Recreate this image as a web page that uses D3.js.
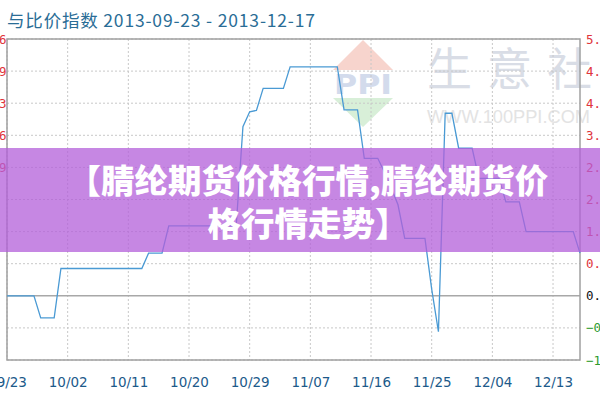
<!DOCTYPE html>
<html><head><meta charset="utf-8">
<script src="https://cdn.jsdelivr.net/npm/d3@7"></script>
<style>body{margin:0;background:#fff;} svg{display:block;}</style>
</head><body>
<svg id="c" width="600" height="400"></svg>
<script>
const titleText = "与比价指数 2013-09-23 - 2013-12-17";
const bannerLines = ["【腈纶期货价格行情,腈纶期货价", "格行情走势】"];
const watermarkName = "生意社";
const watermarkUrl = "WWW.100PPI.COM";
const watermarkLogo = "PPI";

const dates = ["2013-09-23","2013-09-27","2013-09-28","2013-09-30","2013-10-01","2013-10-13","2013-10-14","2013-10-16","2013-10-17","2013-10-27","2013-10-28","2013-10-29","2013-10-30","2013-10-31","2013-11-03","2013-11-04","2013-11-11","2013-11-12","2013-11-14","2013-11-15","2013-11-17","2013-11-18","2013-11-19","2013-11-20","2013-11-21","2013-11-24","2013-11-25","2013-11-26","2013-11-27","2013-11-28","2013-11-29","2013-12-01","2013-12-02","2013-12-05","2013-12-06","2013-12-08","2013-12-09","2013-12-16","2013-12-17"];
const values = [0,0,-0.46,-0.46,0.57,0.57,0.89,0.89,1.46,1.46,3.53,3.84,3.87,4.33,4.33,4.78,4.78,3.88,3.88,2.87,2.87,2.58,2.25,1.90,1.20,1.20,0.14,-0.75,3.81,3.81,3.08,3.08,2.45,2.45,1.96,1.96,1.34,1.34,0.89];

const xTickDates = ["2013-09-23","2013-10-02","2013-10-11","2013-10-20","2013-10-29","2013-11-07","2013-11-16","2013-11-25","2013-12-04","2013-12-13"];
const yTicks = [-1.34,-0.67,0,0.67,1.34,2.01,2.68,3.35,4.02,4.69,5.36];
const leftTickLabels = ["","","","","","","2.69","3.36","4.03","4.69","5.36"];

const parse = d3.timeParse("%Y-%m-%d");
const data = dates.map((d,i)=>({date:parse(d), value:values[i]}));

const svg = d3.select("#c");
const L = 7, R = 580, T = 39, B = 360;
const x = d3.scaleTime().domain([parse("2013-09-23"), parse("2013-12-17")]).range([L, R]);
const y = d3.scaleLinear().domain([-1.34, 5.36]).range([B, T]);

// title
svg.append("text").attr("x", 7).attr("y", 27)
  .attr("textLength", 308).attr("lengthAdjust", "spacing")
  .attr("font-family", "'Noto Sans CJK SC', 'Noto Sans', sans-serif")
  .attr("font-size", 17.5).attr("fill", "#2a6d96").text(titleText);

// watermark
const wm = svg.append("g");
wm.append("path").attr("d", "M333,70 L393,70 L363,40 Z").attr("fill", "#f7d4cd");
wm.append("path").attr("d", "M333,98 L393,98 L363,127 Z").attr("fill", "#d8efd8");
wm.append("text").attr("x", 334).attr("y", 94).attr("textLength", 58).attr("lengthAdjust", "spacingAndGlyphs")
  .attr("font-family", "'DejaVu Sans', sans-serif").attr("font-weight", "bold").attr("font-size", 27)
  .attr("fill", "#d3dbec").text(watermarkLogo);
wm.append("text").attr("x", 427).attr("y", 86).attr("letter-spacing", 15)
  .attr("font-family", "'Noto Sans CJK SC', sans-serif").attr("font-size", 45)
  .attr("fill", "#d9dde6").text(watermarkName);
wm.append("text").attr("x", 427).attr("y", 123).attr("textLength", 163).attr("lengthAdjust", "spacingAndGlyphs")
  .attr("font-family", "'Liberation Sans', sans-serif").attr("font-size", 18)
  .attr("fill", "#e3e3e3").text(watermarkUrl);

// grid
const grid = svg.append("g");
grid.selectAll("line.h").data(yTicks.filter(v => v !== 0)).enter().append("line")
  .attr("x1", L).attr("x2", R).attr("y1", d => y(d)).attr("y2", d => y(d))
  .attr("stroke", "#c8c8c8").attr("stroke-dasharray", "2,2");
grid.selectAll("line.v").data(xTickDates.map(parse)).enter().append("line")
  .attr("x1", d => x(d)).attr("x2", d => x(d)).attr("y1", T).attr("y2", B)
  .attr("stroke", "#c8c8c8").attr("stroke-dasharray", "2,2");
grid.append("line").attr("x1", L).attr("x2", R).attr("y1", y(0)).attr("y2", y(0))
  .attr("stroke", "#a8a8a8").attr("stroke-width", 1.5);

// border
svg.append("rect").attr("x", L).attr("y", T).attr("width", R - L).attr("height", B - T)
  .attr("fill", "none").attr("stroke", "#a0a0a0").attr("stroke-width", 1.5);

// line
svg.append("path").datum(data)
  .attr("d", d3.line().x(d => x(d.date)).y(d => y(d.value)))
  .attr("fill", "none").attr("stroke", "#4a9ad4").attr("stroke-width", 1.3);

// axes
const colorFor = v => v > 0 ? "#e0343c" : (v < 0 ? "#2e9b2e" : "#111");
const xAxis = svg.append("g").attr("transform", `translate(0,${B})`)
  .call(d3.axisBottom(x).tickValues(xTickDates.map(parse)).tickFormat(d3.timeFormat("%m/%d")).tickSize(0).tickPadding(17));
xAxis.select(".domain").remove();
xAxis.selectAll("text").attr("font-family", "'DejaVu Sans', sans-serif").attr("font-size", 13.5).attr("fill", "#1c5a8a");

const rAxis = svg.append("g").attr("transform", `translate(${R},0)`)
  .call(d3.axisRight(y).tickValues(yTicks).tickFormat(d3.format(".2f")).tickSize(0).tickPadding(6));
rAxis.select(".domain").remove();
rAxis.selectAll("text").attr("font-family", "'DejaVu Sans Mono', monospace").attr("font-size", 12.5)
  .attr("fill", d => colorFor(d));

const lAxis = svg.append("g").attr("transform", `translate(${L},0)`)
  .call(d3.axisLeft(y).tickValues(yTicks).tickFormat((d,i) => leftTickLabels[i]).tickSize(0).tickPadding(0.5));
lAxis.select(".domain").remove();
lAxis.selectAll("text").attr("font-family", "'DejaVu Sans Mono', monospace").attr("font-size", 12.5)
  .attr("fill", "#e0343c");

// banner overlay
svg.append("rect").attr("x", 0).attr("y", 148).attr("width", 600).attr("height", 104)
  .attr("fill", "#b35fd9").attr("opacity", 0.75);
svg.selectAll("text.banner").data(bannerLines).enter().append("text")
  .attr("x", 308).attr("y", (d,i) => 193 + i * 43).attr("text-anchor", "middle")
  .attr("font-family", "'Noto Sans CJK SC', sans-serif").attr("font-weight", 900).attr("font-size", 33.5)
  .attr("fill", "#fff").text(d => d);
</script>
</body></html>
